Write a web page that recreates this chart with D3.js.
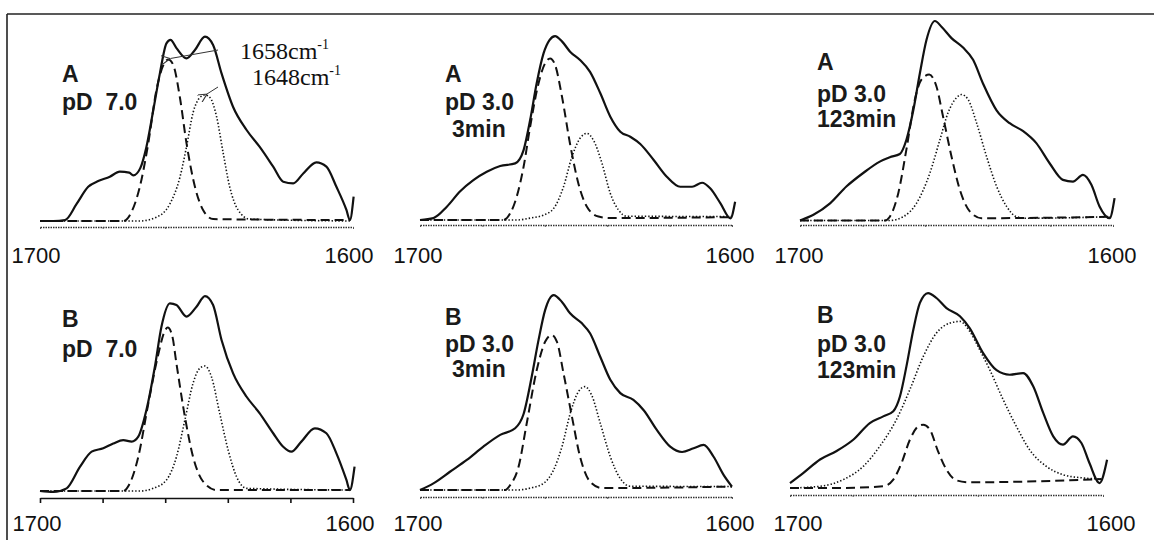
<!DOCTYPE html>
<html lang="en">
<head>
<meta charset="UTF-8">
<title>Amide I band fitting</title>
<script src="https://d3js.org/d3.v7.min.js"></script>
<style>
  body{margin:0;background:#fff;}
  svg{display:block;}
</style>
</head>
<body>
<div id="chart"></div>
<script>
// axis
var tickValues = [1700, 1680, 1660, 1640, 1620, 1600];
var endLabels = [1700, 1600];

// captions of the six panels
var capA70 = ["A", "pD\u00a0\u00a07.0"];
var capA30s = ["A", "pD 3.0", "3min"];
var capA30l = ["A", "pD 3.0", "123min"];
var capB70 = ["B", "pD\u00a0\u00a07.0"];
var capB30s = ["B", "pD 3.0", "3min"];
var capB30l = ["B", "pD 3.0", "123min"];

var bandNotes = ["1658", "1648"];

// spectra, [wavenumber cm-1, absorbance (a.u.)]
var a70Sum = [[1699.5,0],[1695.7,0],[1692,0.005],[1688.3,0.09],[1684.6,0.18],[1681.4,0.21],[1677.7,0.233],[1674.5,0.26],[1671.5,0.255],[1670.2,0.24],[1668,0.277],[1666,0.39],[1663.8,0.584],[1661.7,0.777],[1659.6,0.935],[1658.3,0.953],[1656.4,0.91],[1653.2,0.856],[1650.5,0.9],[1647.3,0.97],[1644.7,0.926],[1642,0.777],[1638.3,0.6],[1634,0.479],[1629.8,0.39],[1625.5,0.286],[1622.3,0.207],[1619.1,0.198],[1615.9,0.25],[1611.7,0.309],[1608.5,0.286],[1605.3,0.18],[1602.1,0.058],[1601,0.005],[1599.8,0.128]];
var a70B1658 = [[1700,0],[1673.4,0],[1670.7,0.05],[1668.1,0.18],[1665.4,0.41],[1662.8,0.69],[1660.6,0.82],[1659,0.85],[1657.4,0.82],[1655.3,0.65],[1653.2,0.41],[1650.5,0.18],[1647.9,0.058],[1644.7,0.01],[1601,0.005]];
var a70B1648 = [[1700,0],[1668.1,0],[1662.8,0.02],[1658.5,0.09],[1655.3,0.23],[1653.2,0.39],[1651.1,0.57],[1648.9,0.65],[1647.3,0.663],[1645.7,0.65],[1643.6,0.55],[1641.5,0.36],[1639.4,0.18],[1636.7,0.058],[1633,0.01],[1601,0]];

var a30sSum = [[1700,0],[1695.7,0.01],[1691.4,0.07],[1687.2,0.15],[1682.9,0.21],[1678.6,0.254],[1674.3,0.284],[1669.5,0.298],[1666.8,0.368],[1664.7,0.526],[1662.6,0.72],[1660.4,0.877],[1658.5,0.947],[1656.7,0.968],[1654.5,0.94],[1651.9,0.886],[1648.7,0.842],[1645.5,0.78],[1642.2,0.667],[1639,0.544],[1635.8,0.465],[1632.6,0.438],[1629.4,0.4],[1625.1,0.316],[1620.9,0.228],[1616.6,0.175],[1612.8,0.175],[1609.6,0.196],[1607,0.167],[1603.7,0.088],[1600.5,0.009],[1599,0.096]];
var a30sB1658 = [[1700,0],[1673.3,0],[1671.1,0.035],[1669,0.123],[1666.8,0.28],[1664.7,0.49],[1662,0.72],[1659.9,0.825],[1658.3,0.85],[1656.7,0.816],[1654.5,0.65],[1651.9,0.4],[1649.2,0.19],[1646.5,0.07],[1642.8,0.018],[1639,0.01],[1600.5,0.015]];
var a30sB1648 = [[1700,0],[1669,0],[1664.7,0.01],[1660.4,0.026],[1657.2,0.06],[1654,0.175],[1651.3,0.333],[1648.7,0.43],[1646.5,0.456],[1644.4,0.42],[1641.7,0.3],[1639,0.14],[1636.4,0.053],[1633.7,0.02],[1600.5,0.018]];

var a30lSum = [[1700,0],[1695.7,0.03],[1690.4,0.09],[1685.1,0.18],[1679.8,0.25],[1674.5,0.31],[1671.3,0.333],[1668.1,0.35],[1666,0.425],[1663.8,0.58],[1661.7,0.775],[1659.6,0.95],[1656.9,1.05],[1654.8,1.02],[1651.6,0.96],[1647.9,0.91],[1644.7,0.846],[1641.5,0.72],[1637.2,0.58],[1633,0.512],[1628.7,0.47],[1624.5,0.407],[1620.2,0.3],[1616,0.214],[1612.8,0.205],[1609.6,0.24],[1606.9,0.188],[1604.3,0.074],[1601.1,0.012],[1599.5,0.118]];
var a30lB1658 = [[1700,0],[1672.9,0],[1671.3,0.02],[1668.6,0.144],[1666,0.374],[1663.3,0.637],[1661.2,0.742],[1658.7,0.768],[1656.4,0.705],[1654.3,0.547],[1651.6,0.337],[1648.9,0.16],[1645.7,0.047],[1642,0.012],[1600.5,0.02]];
var a30lB1648 = [[1700,0],[1671.3,0],[1667,0.02],[1662.8,0.09],[1658.5,0.25],[1655.3,0.425],[1652.7,0.567],[1650,0.646],[1648.4,0.663],[1646.3,0.637],[1643.6,0.514],[1640.4,0.337],[1637.2,0.18],[1634,0.074],[1630.9,0.02],[1627.7,0.012],[1600.5,0.02]];

var b70Sum = [[1700,0],[1695.7,-0.005],[1691.5,0.014],[1687.2,0.128],[1683.5,0.207],[1679.8,0.225],[1676.6,0.25],[1673.4,0.268],[1670.7,0.26],[1668.6,0.286],[1666,0.426],[1663.3,0.654],[1661.2,0.865],[1658.5,0.988],[1656.4,0.979],[1653.2,0.918],[1650,0.97],[1647.3,1.026],[1644.7,0.979],[1642,0.795],[1638.3,0.619],[1634,0.496],[1629.8,0.409],[1625.5,0.304],[1622.3,0.233],[1619.7,0.207],[1616.5,0.26],[1612.2,0.33],[1608.5,0.304],[1605.3,0.198],[1602.1,0.058],[1601,0.005],[1599.5,0.128]];
var b70B1658 = [[1700,0],[1673.4,0],[1671.3,0.04],[1668.6,0.18],[1665.4,0.46],[1662.2,0.72],[1660.2,0.84],[1659.2,0.86],[1657.8,0.82],[1656.4,0.67],[1653.7,0.39],[1651.1,0.18],[1647.9,0.05],[1643.6,0.005],[1601,0.005]];
var b70B1648 = [[1700,0],[1668,0],[1663.8,0.014],[1659.6,0.058],[1656.4,0.18],[1653.7,0.374],[1651.1,0.567],[1649,0.645],[1647.3,0.658],[1645.2,0.6],[1642.6,0.41],[1639.9,0.216],[1637.2,0.075],[1634,0.014],[1601,0.005]];

var b30sSum = [[1700,0],[1695.7,0.035],[1690.4,0.096],[1685,0.158],[1679.7,0.228],[1674.3,0.29],[1669.5,0.325],[1666.8,0.4],[1664.2,0.596],[1662,0.79],[1659.9,0.947],[1657.2,1.026],[1654.5,0.99],[1651.9,0.93],[1648.1,0.877],[1645.5,0.825],[1642.2,0.7],[1639,0.58],[1635.8,0.51],[1631.6,0.474],[1628.3,0.42],[1624.1,0.316],[1619.8,0.228],[1616,0.2],[1612.3,0.22],[1609.1,0.237],[1605.9,0.175],[1602.7,0.08],[1600,0.018]];
var b30sB1658 = [[1700,0],[1672.7,0],[1671.1,0.026],[1668.4,0.123],[1665.8,0.35],[1662.6,0.63],[1659.9,0.78],[1657.8,0.816],[1656.1,0.78],[1654,0.614],[1651.3,0.386],[1648.7,0.175],[1645.5,0.044],[1641.7,0.01],[1600,0.018]];
var b30sB1648 = [[1700,0],[1669,0],[1664.7,0.01],[1660.4,0.035],[1657.2,0.105],[1654.5,0.228],[1651.9,0.4],[1649.2,0.518],[1647.1,0.544],[1645,0.5],[1642.2,0.35],[1639,0.175],[1635.8,0.06],[1632.6,0.02],[1600,0.018]];

var b30lSum = [[1700,0.026],[1695.7,0.08],[1690.4,0.15],[1685.1,0.195],[1679.8,0.254],[1674.5,0.342],[1670.2,0.377],[1667,0.404],[1664.9,0.48],[1662.8,0.64],[1660.6,0.833],[1658.5,0.974],[1655.9,1.026],[1653.2,1.0],[1650,0.947],[1645.7,0.904],[1642.6,0.842],[1638.3,0.71],[1634,0.62],[1629.8,0.596],[1625.5,0.605],[1622.3,0.535],[1619.1,0.395],[1615.9,0.272],[1612.8,0.228],[1609.6,0.272],[1606.9,0.237],[1604.3,0.13],[1601.1,0.026],[1598.7,0.149]];
var b30lB1658 = [[1700,0],[1685.1,0],[1670.2,0.009],[1667,0.044],[1664.4,0.13],[1661.7,0.254],[1659,0.325],[1657.4,0.333],[1655.3,0.307],[1652.7,0.193],[1650,0.096],[1646.8,0.04],[1642.6,0.03],[1621.3,0.035],[1600.5,0.047]];
var b30lB1648 = [[1700,0],[1690.4,0.009],[1683,0.044],[1676.6,0.114],[1671.3,0.22],[1666,0.36],[1661.7,0.518],[1657.4,0.693],[1653.2,0.816],[1648.9,0.868],[1645.7,0.877],[1642.6,0.825],[1639.4,0.728],[1636.2,0.623],[1631.9,0.465],[1627.7,0.325],[1623.4,0.2],[1618.1,0.114],[1612.8,0.07],[1606.4,0.053],[1600.5,0.047]];

var W = 1154, H = 540;
var svg = d3.select("#chart").append("svg")
    .attr("width", W)
    .attr("height", H);

// outer frame of the scanned figure
svg.append("line").attr("x1", 7).attr("y1", 14).attr("x2", W).attr("y2", 14)
    .attr("stroke", "#222").attr("stroke-width", 1.6);
svg.append("line").attr("x1", 7).attr("y1", 14).attr("x2", 7).attr("y2", H)
    .attr("stroke", "#222").attr("stroke-width", 1.6);

var panels = [
  {cap: capA70, sum: a70Sum, b1: a70B1658, b2: a70B1648, x0: 40, x1: 353, base: 221, axisY: 227, lblY: 263, lblDx: -4,
   capX: 62, capY: [82, 110], capDx: [0, 0], solidAxis: false},
  {cap: capA30s, sum: a30sSum, b1: a30sB1658, b2: a30sB1648, x0: 420, x1: 732, base: 220, axisY: 225, lblY: 263, lblDx: -2,
   capX: 445, capY: [82, 110, 137], capDx: [0, 0, 7], solidAxis: false},
  {cap: capA30l, sum: a30lSum, b1: a30lB1658, b2: a30lB1648, x0: 800, x1: 1113, base: 220.5, axisY: 225, lblY: 263, lblDx: -1,
   capX: 817, capY: [70, 102, 127], capDx: [0, 0, 0], solidAxis: false},
  {cap: capB70, sum: b70Sum, b1: b70B1658, b2: b70B1648, x0: 40, x1: 353, base: 491, axisY: 498, lblY: 531, lblDx: -3,
   capX: 62, capY: [327, 357], capDx: [0, 0], solidAxis: true},
  {cap: capB30s, sum: b30sSum, b1: b30sB1658, b2: b30sB1648, x0: 420, x1: 732, base: 490, axisY: 497, lblY: 531, lblDx: -2,
   capX: 445, capY: [325, 352, 377], capDx: [0, 0, 7], solidAxis: false},
  {cap: capB30l, sum: b30lSum, b1: b30lB1658, b2: b30lB1648, x0: 790, x1: 1103, base: 488, axisY: 495, lblY: 531, lblDx: 8,
   capX: 817, capY: [323, 352, 378], capDx: [0, 0, 0], solidAxis: false}
];

var firstX, firstY;

panels.forEach(function(p, i) {
    var x = d3.scaleLinear().domain([1700, 1600]).range([p.x0, p.x1]);
    var y = d3.scaleLinear().domain([0, 1]).range([p.base, p.base - 190]);
    if (i == 0) { firstX = x; firstY = y; }
    var g = svg.append("g");

    // axis
    var ax = g.append("g")
        .attr("transform", "translate(0," + p.axisY + ")")
        .call(d3.axisBottom(x).tickValues(tickValues).tickSize(p.solidAxis ? 5 : 2).tickSizeOuter(0).tickFormat(""));
    ax.select(".domain")
        .attr("stroke", p.solidAxis ? "#111" : "#333")
        .attr("stroke-width", p.solidAxis ? 1.6 : 1.3)
        .attr("stroke-dasharray", p.solidAxis ? null : "1.5,1");
    ax.selectAll(".tick line")
        .attr("stroke", p.solidAxis ? "#111" : "#555")
        .attr("stroke-width", p.solidAxis ? 1.6 : 1);

    g.selectAll(".end-label")
        .data(endLabels)
        .enter().append("text")
        .attr("x", function(d) { return x(d) + p.lblDx; })
        .attr("y", p.lblY)
        .attr("text-anchor", "middle")
        .attr("font-family", "Liberation Sans, Arial, sans-serif")
        .attr("font-size", 22)
        .attr("fill", "#111")
        .text(function(d) { return d; });

    var line = d3.line()
        .x(function(d) { return x(d[0]); })
        .y(function(d) { return y(d[1]); })
        .curve(d3.curveMonotoneX);

    g.append("path").datum(p.b2)
        .attr("d", line)
        .attr("fill", "none")
        .attr("stroke", "#111")
        .attr("stroke-width", 1.6)
        .attr("stroke-dasharray", "1.4,2");
    g.append("path").datum(p.b1)
        .attr("d", line)
        .attr("fill", "none")
        .attr("stroke", "#111")
        .attr("stroke-width", 2)
        .attr("stroke-dasharray", "9,5");
    g.append("path").datum(p.sum)
        .attr("d", line)
        .attr("fill", "none")
        .attr("stroke", "#111")
        .attr("stroke-width", 2.2)
        .attr("stroke-linejoin", "round");

    // caption
    g.selectAll(".cap")
        .data(p.cap)
        .enter().append("text")
        .attr("x", function(d, k) { return p.capX + p.capDx[k]; })
        .attr("y", function(d, k) { return p.capY[k]; })
        .attr("font-family", "Liberation Sans, Arial, sans-serif")
        .attr("font-weight", "bold")
        .attr("font-size", 23)
        .attr("fill", "#1a1a1a")
        .text(function(d) { return d; });
});

// band assignments in the first panel
svg.append("defs").append("marker")
    .attr("id", "open")
    .attr("viewBox", "0 0 10 10")
    .attr("refX", 0).attr("refY", 5)
    .attr("markerWidth", 9).attr("markerHeight", 9)
    .attr("orient", "auto-start-reverse")
    .append("path")
    .attr("d", "M10,0 L0,5 L10,10")
    .attr("fill", "none")
    .attr("stroke", "#333")
    .attr("stroke-width", 1.2);

var notePos = [{tx: 240, ty: 59, fx: 218, fy: 50, peak: a70B1658},
               {tx: 252, ty: 85, fx: 218, fy: 87, peak: a70B1648}];

bandNotes.forEach(function(n, k) {
    var q = notePos[k];
    var top = q.peak.reduce(function(a, b) { return b[1] > a[1] ? b : a; });
    svg.append("line")
        .attr("x1", q.fx).attr("y1", q.fy)
        .attr("x2", firstX(top[0]) + 2).attr("y2", firstY(top[1]) - 1)
        .attr("stroke", "#333")
        .attr("stroke-width", 1)
        .attr("marker-end", "url(#open)");
    var t = svg.append("text")
        .attr("x", q.tx).attr("y", q.ty)
        .attr("font-family", "Liberation Serif, Times New Roman, serif")
        .attr("font-size", 24)
        .attr("fill", "#111");
    t.append("tspan").text(n + "cm");
    t.append("tspan").attr("dy", -10).attr("font-size", 14).text("-1");
});
</script>
</body>
</html>
